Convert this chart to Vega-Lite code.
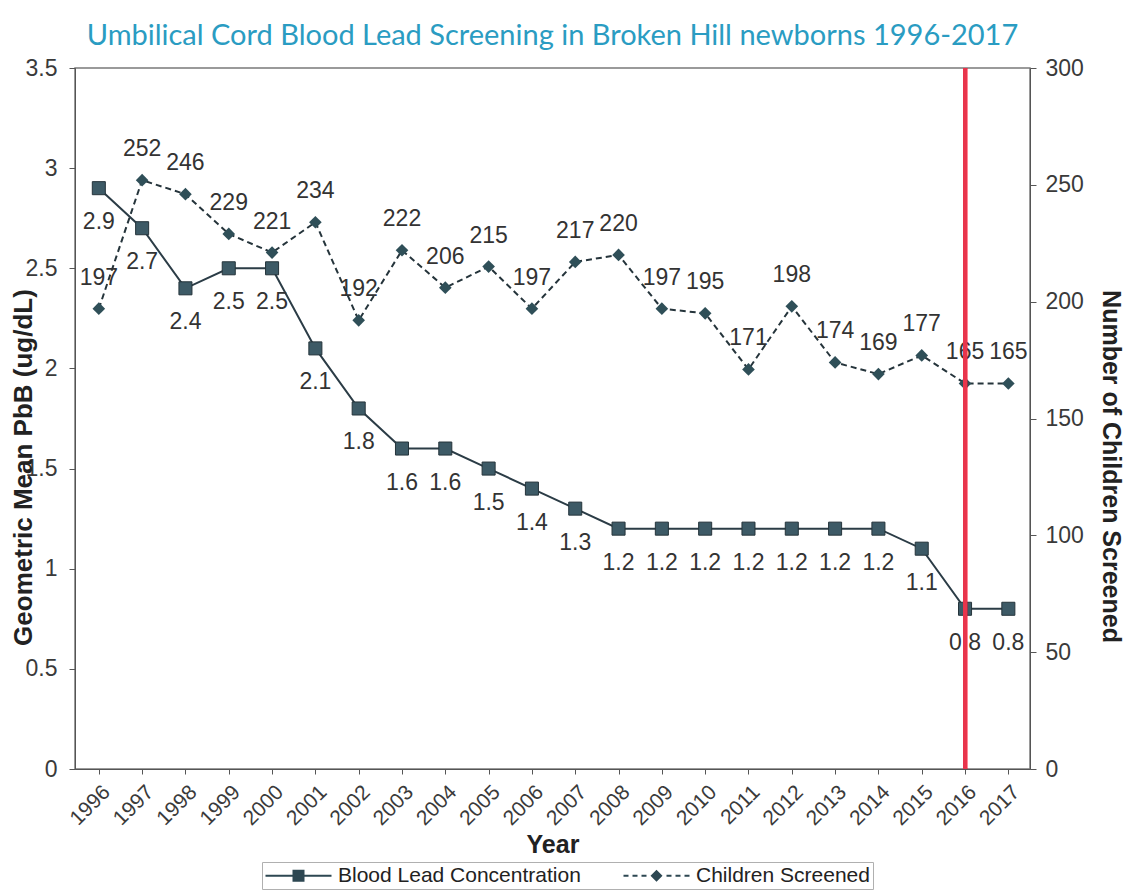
{
  "$schema": "https://vega.github.io/schema/vega-lite/v6.json",
  "width": 955,
  "height": 701,
  "autosize": "none",
  "padding": {"left": 75, "top": 68, "right": 99, "bottom": 122},
  "background": "white",
  "title": {
    "text": "Umbilical Cord Blood Lead Screening in Broken Hill newborns 1996-2017",
    "font": "Lato",
    "fontSize": 29,
    "fontWeight": "normal",
    "color": "#2a9cc2",
    "anchor": "middle",
    "offset": 6,
    "frame": "group"
  },
  "config": {
    "view": {"stroke": "#7a7a7a", "strokeWidth": 1.5},
    "axis": {
      "labelFont": "Liberation Sans",
      "titleFont": "Liberation Sans",
      "labelColor": "#3a3a3a",
      "titleColor": "#222",
      "grid": false,
      "domainColor": "#555",
      "tickColor": "#555"
    }
  },
  "data": {
    "values": [
      {"year": 1996, "lead": 2.9, "children": 197},
      {"year": 1997, "lead": 2.7, "children": 252},
      {"year": 1998, "lead": 2.4, "children": 246},
      {"year": 1999, "lead": 2.5, "children": 229},
      {"year": 2000, "lead": 2.5, "children": 221},
      {"year": 2001, "lead": 2.1, "children": 234},
      {"year": 2002, "lead": 1.8, "children": 192},
      {"year": 2003, "lead": 1.6, "children": 222},
      {"year": 2004, "lead": 1.6, "children": 206},
      {"year": 2005, "lead": 1.5, "children": 215},
      {"year": 2006, "lead": 1.4, "children": 197},
      {"year": 2007, "lead": 1.3, "children": 217},
      {"year": 2008, "lead": 1.2, "children": 220},
      {"year": 2009, "lead": 1.2, "children": 197},
      {"year": 2010, "lead": 1.2, "children": 195},
      {"year": 2011, "lead": 1.2, "children": 171},
      {"year": 2012, "lead": 1.2, "children": 198},
      {"year": 2013, "lead": 1.2, "children": 174},
      {"year": 2014, "lead": 1.2, "children": 169},
      {"year": 2015, "lead": 1.1, "children": 177},
      {"year": 2016, "lead": 0.8, "children": 165},
      {"year": 2017, "lead": 0.8, "children": 165}
    ]
  },
  "encoding": {
    "x": {
      "field": "year",
      "type": "quantitative",
      "scale": {"domain": [1995.45, 2017.5], "nice": false, "zero": false},
      "axis": {
        "title": "Year",
        "titleFontSize": 25,
        "titleFontWeight": "bold",
        "titlePadding": 4,
        "values": [1996,1997,1998,1999,2000,2001,2002,2003,2004,2005,2006,2007,2008,2009,2010,2011,2012,2013,2014,2015,2016,2017],
        "format": "d",
        "labelAngle": -45,
        "labelFontSize": 21,
        "labelPadding": 7,
        "labelDx": -5,
        "tickSize": 5,
        "labelOverlap": false,
        "labelBound": false,
        "labelFlush": false
      }
    }
  },
  "layer": [
    {
      "layer": [
        {
          "mark": {"type": "line", "strokeWidth": 2},
          "encoding": {
            "y": {
              "field": "lead",
              "type": "quantitative",
              "scale": {"domain": [0, 3.5], "nice": false},
              "axis": {
                "orient": "left",
                "title": "Geometric Mean PbB (ug/dL)",
                "titleFontSize": 26,
                "titleFontWeight": "bold",
                "titleX": -52,
                "titleY": 399,
                "titleBaseline": "middle",
                "values": [0, 0.5, 1, 1.5, 2, 2.5, 3, 3.5],
                "format": "~g",
                "labelFontSize": 23,
                "labelPadding": 12,
                "tickSize": 6
              }
            },
            "color": {
              "datum": "Blood Lead Concentration",
              "type": "nominal",
              "scale": {"domain": ["Blood Lead Concentration", "Children Screened"], "range": ["#2b3c46", "#25343b"]},
              "legend": {
                "orient": "none",
                "legendX": 187,
                "legendY": 794,
                "direction": "horizontal",
                "title": null,
                "symbolSize": 400,
                "symbolOffset": 23,
                "labelOffset": 29,
                "labelLimit": 400,
                "labelFont": "Liberation Sans",
                "labelFontSize": 21,
                "labelColor": "#222",
                "columnPadding": 42,
                "strokeColor": "#b0b0b0",
                "padding": 3,
                "encode": {
                  "symbols": {
                    "update": {
                      "shape": {"signal": "datum.value === 'Blood Lead Concentration' ? 'M-3.3,-0.1H3.3V0.1H-3.3Z M-0.6,-0.6H0.6V0.6H-0.6Z' : 'M-3.3,-0.1H-2.8V0.1H-3.3Z M-2.4,-0.1H-1.9V0.1H-2.4Z M-1.5,-0.1H-1.0V0.1H-1.5Z M-0.6,0L0,-0.6L0.6,0L0,0.6Z M1.0,-0.1H1.5V0.1H1.0Z M1.9,-0.1H2.4V0.1H1.9Z M2.8,-0.1H3.3V0.1H2.8Z'"},
                      "fill": {"value": "#2d4752"},
                      "stroke": {"value": "transparent"},
                      "strokeWidth": {"value": 0}
                    }
                  }
                }
              }
            }
          }
        },
        {
          "mark": {"type": "point", "shape": "square", "filled": true, "size": 170, "fill": "#3d5a66", "stroke": "#25343b", "strokeWidth": 1, "opacity": 1},
          "encoding": {"y": {"field": "lead", "type": "quantitative"}}
        },
        {
          "mark": {"type": "text", "dy": 34, "fontSize": 23, "font": "Liberation Sans", "color": "#333"},
          "encoding": {
            "y": {"field": "lead", "type": "quantitative"},
            "text": {"field": "lead", "type": "quantitative", "format": ".1f"}
          }
        }
      ]
    },
    {
      "layer": [
        {
          "mark": {"type": "line", "strokeWidth": 2, "strokeDash": [6, 4]},
          "encoding": {
            "y": {
              "field": "children",
              "type": "quantitative",
              "scale": {"domain": [0, 300], "nice": false},
              "axis": {
                "orient": "right",
                "title": "Number of Children Screened",
                "titleFontSize": 25,
                "titleFontWeight": "bold",
                "titleX": 80,
                "titleY": 398,
                "titleBaseline": "middle",
                "values": [0, 50, 100, 150, 200, 250, 300],
                "labelFontSize": 23,
                "labelPadding": 9,
                "tickSize": 6
              }
            },
            "color": {"datum": "Children Screened", "type": "nominal"}
          }
        },
        {
          "mark": {"type": "point", "shape": "diamond", "filled": true, "size": 160, "fill": "#2f4f58", "opacity": 1},
          "encoding": {"y": {"field": "children", "type": "quantitative"}}
        },
        {
          "mark": {"type": "text", "dy": -31, "fontSize": 23, "font": "Liberation Sans", "color": "#333"},
          "encoding": {
            "y": {"field": "children", "type": "quantitative"},
            "text": {"field": "children", "type": "quantitative"}
          }
        }
      ]
    },
    {
      "mark": {"type": "rule", "color": "#e8354c", "strokeWidth": 4},
      "encoding": {"x": {"datum": 2016}}
    }
  ],
  "resolve": {"scale": {"y": "independent"}}
}
